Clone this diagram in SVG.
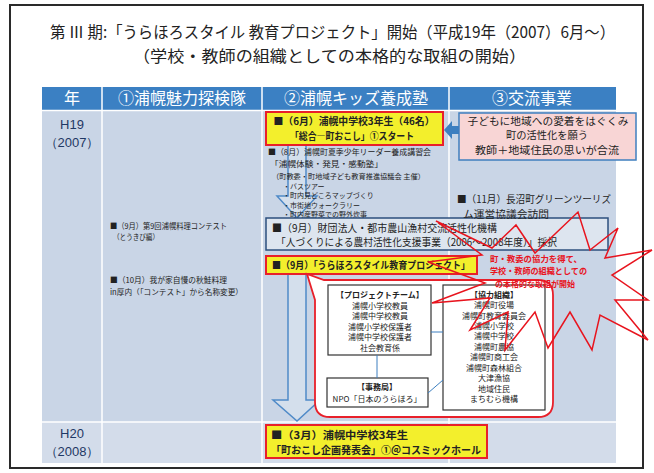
<svg xmlns="http://www.w3.org/2000/svg" width="654" height="473" viewBox="0 0 654 473">
<style>
text{font-family:"Noto Sans CJK JP","Noto Sans",sans-serif;fill:#222}
.ttl{font-size:16px}
.hd{font-size:16px;fill:#fff;text-anchor:middle}
.yr{font-family:"Liberation Sans","Noto Sans",sans-serif;font-size:13px;fill:#1f3864;text-anchor:middle}
.yb{fill:#f3ef2c;stroke:#e8202a;stroke-width:2}
.bt{font-weight:bold}
.s8{font-size:8px}
.s7{font-size:7px}
.s10{font-size:10.5px}
.pk{font-size:10px}
.wb{fill:#fff;stroke:#333;stroke-width:1.2}
.c{text-anchor:middle}
.red{fill:#e8141e;font-weight:bold;font-size:8.5px}
.harrow{fill:#d4dfec;stroke:#4f8ac8;stroke-width:1.5}
.con{stroke:#3c7fc0;stroke-width:1;fill:none}
</style>
<rect x="10" y="5" width="633" height="463" fill="#fff" stroke="#2a2a2a" stroke-width="2"/>
<g id="title">
<text class="ttl" x="50" y="38" textLength="565" lengthAdjust="spacingAndGlyphs">第 Ⅲ 期:「うらほろスタイル 教育プロジェクト」開始（平成19年（2007）6月〜）</text>
<text class="ttl" x="133" y="61.5" textLength="393" lengthAdjust="spacingAndGlyphs">（学校・教師の組織としての本格的な取組の開始）</text>
</g>
<g id="table">
<rect x="42" y="87" width="574" height="23" fill="#3b80c3"/>
<rect x="42" y="110" width="574" height="312" fill="#c9d5e6"/>
<rect x="42" y="422" width="574" height="41" fill="#d3dcea"/>
<g stroke="#fff" stroke-width="1.5">
<line x1="102" y1="87" x2="102" y2="463"/>
<line x1="262" y1="87" x2="262" y2="463"/>
<line x1="449" y1="87" x2="449" y2="463"/>
<line x1="42" y1="110.5" x2="616" y2="110.5"/>
<line x1="42" y1="422" x2="616" y2="422"/>
</g>
<text class="hd" x="72" y="104">年</text>
<text class="hd" x="182" y="104">①浦幌魅力探検隊</text>
<text class="hd" x="356" y="104">②浦幌キッズ養成塾</text>
<text class="hd" x="532" y="104">③交流事業</text>
<text class="yr" x="72" y="129">H19</text>
<text class="yr" x="72" y="147">（2007）</text>
<text class="yr" x="72" y="438">H20</text>
<text class="yr" x="72" y="456">（2008）</text>
</g>
<g id="arrows-flow">
<path class="harrow" d="M288,145 V196 H277 L297,218 L317,196 H306 V145 Z"/>
<path class="harrow" d="M288,274 V400 H273 L297,421 L320,400 H306 V274 Z"/>
</g>
<g id="kids-start">
<rect class="yb" x="266" y="112" width="177" height="33"/>
<text class="bt c" font-size="10" x="354" y="125" textLength="161" lengthAdjust="spacingAndGlyphs">■（6月）浦幌中学校3年生（46名）</text>
<text class="bt c" font-size="10" x="352" y="140" textLength="124" lengthAdjust="spacingAndGlyphs">「総合―町おこし」①スタート</text>
</g>
<g id="summer-camp">
<text class="s8" x="268" y="155" textLength="163" lengthAdjust="spacingAndGlyphs">■（8月）浦幌町夏季少年リーダー養成講習会</text>
<text class="s8" x="270" y="167" textLength="113" lengthAdjust="spacingAndGlyphs">「浦幌体験・発見・感動塾」</text>
<text class="s7" x="272" y="179" textLength="153" lengthAdjust="spacingAndGlyphs">（町教委・町地域子ども教育推進協議会 主催）</text>
<text class="s7" x="283" y="188.5">・バスツアー</text>
<text class="s7" x="283" y="198">・町内見どころマップづくり</text>
<text class="s7" x="283" y="207.5">・市街地ウォークラリー</text>
<text class="s7" x="283" y="216.5">・町内産野菜での野外炊事</text>
</g>
<g id="foundation">
<rect x="266" y="218" width="342" height="32" fill="#dde5ef" stroke="#2d4f7e" stroke-width="1.5"/>
<text class="s10" x="272" y="232" textLength="225" lengthAdjust="spacingAndGlyphs">■（9月）財団法人・都市農山漁村交流活性化機構</text>
<text class="s10" x="276" y="246" textLength="281" lengthAdjust="spacingAndGlyphs">「人づくりによる農村活性化支援事業（2006～2008年度）」採択</text>
</g>
<g id="urahoro-project">
<rect class="yb" x="266" y="256" width="211" height="18"/>
<text class="bt" font-size="10" x="272" y="269" textLength="198" lengthAdjust="spacingAndGlyphs">■（9月）「うらほろスタイル教育プロジェクト」</text>
</g>
<g id="project-organization">
<path d="M324,280 H538 Q553,280 553,295 V402 Q553,417 538,417 H330 Q315,417 315,402 V300 L307,274 Z" fill="#fff" stroke="#e8202a" stroke-width="1.8"/>
</g>
<g id="project-team">
<rect class="wb" x="328" y="285" width="103" height="70"/>
<text class="s8 bt c" x="380" y="298">【プロジェクトチーム】</text>
<text class="s8 c" x="380" y="308.5">浦幌小学校教員</text>
<text class="s8 c" x="380" y="319">浦幌中学校教員</text>
<text class="s8 c" x="380" y="329.5">浦幌小学校保護者</text>
<text class="s8 c" x="380" y="340">浦幌中学校保護者</text>
<text class="s8 c" x="380" y="350.5">社会教育係</text>
</g>
<g id="secretariat">
<rect class="wb" x="327" y="378" width="101" height="29"/>
<text class="s8 bt c" x="377" y="390">【事務局】</text>
<text class="s8 c" x="377" y="401.5">NPO「日本のうらほろ」</text>
</g>
<g id="cooperation">
<rect class="wb" x="443" y="285" width="102" height="125"/>
<text class="s8 bt c" x="494" y="298">【協力組織】</text>
<text class="s8 c" x="494" y="308">浦幌町役場</text>
<text class="s8 c" x="494" y="318.5">浦幌町教育委員会</text>
<text class="s8 c" x="494" y="328.8">浦幌小学校</text>
<text class="s8 c" x="494" y="339.2">浦幌中学校</text>
<text class="s8 c" x="494" y="349.6">浦幌町農協</text>
<text class="s8 c" x="494" y="360">浦幌町商工会</text>
<text class="s8 c" x="494" y="370.5">浦幌町森林組合</text>
<text class="s8 c" x="494" y="381">大津漁協</text>
<text class="s8 c" x="494" y="391.5">地域住民</text>
<text class="s8 c" x="494" y="402">まちむら機構</text>
</g>
<g id="connectors">
<line class="con" x1="431" y1="332" x2="443" y2="332"/>
<line class="con" x1="377" y1="355" x2="377" y2="378"/>
<line class="con" x1="428" y1="393" x2="443" y2="380"/>
<path d="M459,126 H452 V121 L444,130 L452,139 V134 H459 Z" fill="#3d7fc0"/>
</g>
<g id="kids-final">
<rect class="yb" x="266" y="425" width="221" height="33"/>
<text class="bt" font-size="10.5" x="271" y="438.5" textLength="137" lengthAdjust="spacingAndGlyphs">■（3月）浦幌中学校3年生</text>
<text class="bt" font-size="10.5" x="271" y="454" textLength="210" lengthAdjust="spacingAndGlyphs">「町おこし企画発表会」①＠コスミックホール</text>
</g>
<g id="motive">
<rect x="459" y="113" width="177" height="47" fill="#f8d5d5" stroke="#3f7fbf" stroke-width="1.5"/>
<text class="pk c" x="548" y="124.5" textLength="161" lengthAdjust="spacingAndGlyphs">子どもに地域への愛着をはぐくみ</text>
<text class="pk c" x="547" y="139" textLength="82" lengthAdjust="spacingAndGlyphs">町の活性化を願う</text>
<text class="pk c" x="547" y="153.5" textLength="144" lengthAdjust="spacingAndGlyphs">教師＋地域住民の思いが合流</text>
</g>
<g id="naganuma">
<text font-size="10" x="457" y="203" textLength="154" lengthAdjust="spacingAndGlyphs">■（11月）長沼町グリーンツーリズ</text>
<text font-size="10" x="463" y="218" textLength="86" lengthAdjust="spacingAndGlyphs">ム運営協議会訪問</text>
</g>
<g id="cooking-contest">
<text font-size="8" x="110" y="229" textLength="117" lengthAdjust="spacingAndGlyphs">■（9月）第9回浦幌料理コンテスト</text>
<text font-size="7.5" x="113" y="239.5" textLength="46" lengthAdjust="spacingAndGlyphs">（とうきび編）</text>
<text font-size="8" x="110" y="283" textLength="117" lengthAdjust="spacingAndGlyphs">■（10月）我が家自慢の秋鮭料理</text>
<text font-size="7.5" x="110" y="294.5" textLength="133" lengthAdjust="spacingAndGlyphs">in厚内（「コンテスト」から名称変更）</text>
</g>
<g id="burst">
<polygon points="428,262 482,255 436,221 492,248 516,225 535,253 578,212 590,250 618,228 605,258 652,250 612,275 648,300 615,300 648,340 600,315 592,350 570,312 548,348 535,312 505,350 508,312 470,330 490,298 432,303 485,283" fill="none" stroke="#e8141e" stroke-width="1.5" stroke-linejoin="miter"/>
<text class="red" x="490" y="262" textLength="92" lengthAdjust="spacingAndGlyphs">町・教委の協力を得て、</text>
<text class="red" x="490" y="274.3" textLength="97" lengthAdjust="spacingAndGlyphs">学校・教師の組織としての</text>
<text class="red" x="495" y="286.5" textLength="80" lengthAdjust="spacingAndGlyphs">の本格的な取組が開始</text>
</g>
</svg>
